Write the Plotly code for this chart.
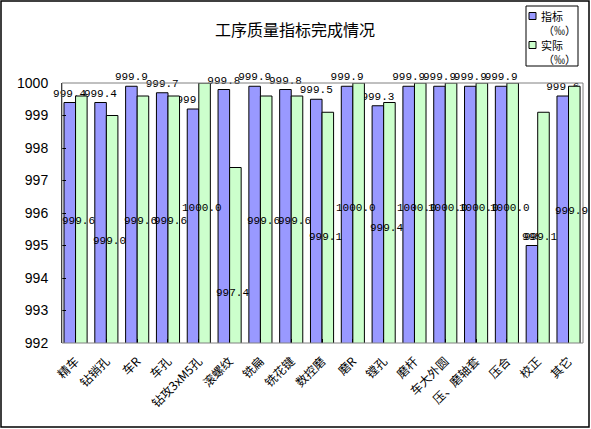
import plotly.graph_objects as go

categories = ["精车", "钻销孔", "车R", "车孔", "钻攻3xM5孔", "滚螺纹", "铣扁", "铣花键", "数控磨",
              "磨R", "镗孔", "磨杆", "车大外圆", "压、磨轴套", "压合", "校正", "其它"]
target = [999.4, 999.4, 999.9, 999.7, 999.2, 999.8, 999.9, 999.8, 999.5,
          999.9, 999.3, 999.9, 999.9, 999.9, 999.9, 995.0, 999.6]
actual = [999.6, 999.0, 999.6, 999.6, 1000.0, 997.4, 999.6, 999.6, 999.1,
          1000.0, 999.4, 1000.0, 1000.0, 1000.0, 1000.0, 999.1, 999.9]
target_labels = ["999.4", "999.4", "999.9", "999.7", "999.2", "999.8", "999.9", "999.8", "999.5",
                 "999.9", "999.3", "999.9", "999.9", "999.9", "999.9", "995", "999.6"]
actual_labels = ["999.6", "999.0", "999.6", "999.6", "1000.0", "997.4", "999.6", "999.6", "999.1",
                 "1000.0", "999.4", "1000.0", "1000.0", "1000.0", "1000.0", "999.1", "999.9"]
series_names = ["指标", "实际"]
series_colors = ["#9999FF", "#CCFFCC"]
unit_text = "（‰）"

W, H = 591, 429
ML, MR, MT, MB = 62, 8, 83, 86
pw, ph = W - ML - MR, H - MT - MB


def px_x(x):
    return (x - ML) / pw


def px_y(y):
    return (H - MB - y) / ph


lab_font = dict(family="Liberation Mono, DejaVu Sans Mono", size=11, color="black")

fig = go.Figure()
fig.add_trace(go.Bar(
    x=categories, y=target, name=series_names[0] + unit_text, showlegend=False,
    marker=dict(color=series_colors[0], line=dict(color="black", width=1)),
    text=target_labels, textposition="outside", textfont=lab_font,
    constraintext="none", cliponaxis=False,
))
fig.add_trace(go.Bar(
    x=categories, y=actual, name=series_names[1] + unit_text, showlegend=False,
    marker=dict(color=series_colors[1], line=dict(color="black", width=1)),
))

# actual-value labels (positioned low, as in the reference)
for c, v, t in zip(categories, actual, actual_labels):
    fig.add_annotation(x=c, y=v - 3.85, text=t, showarrow=False, xshift=3,
                       font=lab_font, yanchor="middle")

# outer chart border
fig.add_shape(type="rect", xref="paper", yref="paper",
              x0=px_x(1), x1=px_x(589), y0=px_y(427), y1=px_y(1),
              line=dict(color="black", width=1.5), fillcolor="rgba(0,0,0,0)")
# plot-area border
fig.add_shape(type="rect", xref="paper", yref="paper", x0=0, x1=1, y0=0, y1=1,
              line=dict(color="#808080", width=1))

# legend box (drawn to match the reference's compact legend)
fig.add_shape(type="rect", xref="paper", yref="paper",
              x0=px_x(526), x1=px_x(578), y0=px_y(66), y1=px_y(6),
              line=dict(color="black", width=1), fillcolor="white")
leg_font = dict(family="Noto Sans CJK SC", size=11, color="black")
for i, (nm, col) in enumerate(zip(series_names, series_colors)):
    yc = 16 + i * 29
    fig.add_shape(type="rect", xref="paper", yref="paper",
                  x0=px_x(529), x1=px_x(536), y0=px_y(yc + 3.5), y1=px_y(yc - 3.5),
                  line=dict(color="black", width=1), fillcolor=col)
    fig.add_annotation(xref="paper", yref="paper", x=px_x(539), y=px_y(yc), text=nm,
                       showarrow=False, xanchor="left", yanchor="middle", font=leg_font)
    fig.add_annotation(xref="paper", yref="paper", x=px_x(541), y=px_y(yc + 14), text=unit_text,
                       showarrow=False, xanchor="left", yanchor="middle", font=leg_font)

fig.update_layout(
    width=W, height=H,
    margin=dict(l=ML, r=MR, t=MT, b=MB, autoexpand=False),
    paper_bgcolor="white", plot_bgcolor="white",
    barmode="group", bargap=0.25, bargroupgap=0, showlegend=False,
    title=dict(text="工序质量指标完成情况", x=px_x(295), xref="paper", xanchor="center",
               y=1 - 30 / H, yanchor="middle",
               font=dict(family="Noto Sans CJK SC", size=16, color="black")),
    font=dict(family="Noto Sans CJK SC", color="black"),
    xaxis=dict(tickangle=-45, tickfont=dict(family="Noto Sans CJK SC", size=12),
               range=[-0.44, 16.47],
               showline=False, ticks="inside",
               ticklen=4, tickcolor="black", ticklabelstandoff=8),
    yaxis=dict(range=[992, 1000], dtick=1, tick0=992, showgrid=False,
               showline=True, linecolor="black", mirror=False,
               ticks="inside", ticklen=4, tickcolor="black", ticklabelstandoff=10,
               tickfont=dict(family="Liberation Sans", size=14)),
)

fig.write_html("out.html", config={"displayModeBar": False},
               post_script="document.body.style.margin='0';document.body.style.overflow='hidden';")
